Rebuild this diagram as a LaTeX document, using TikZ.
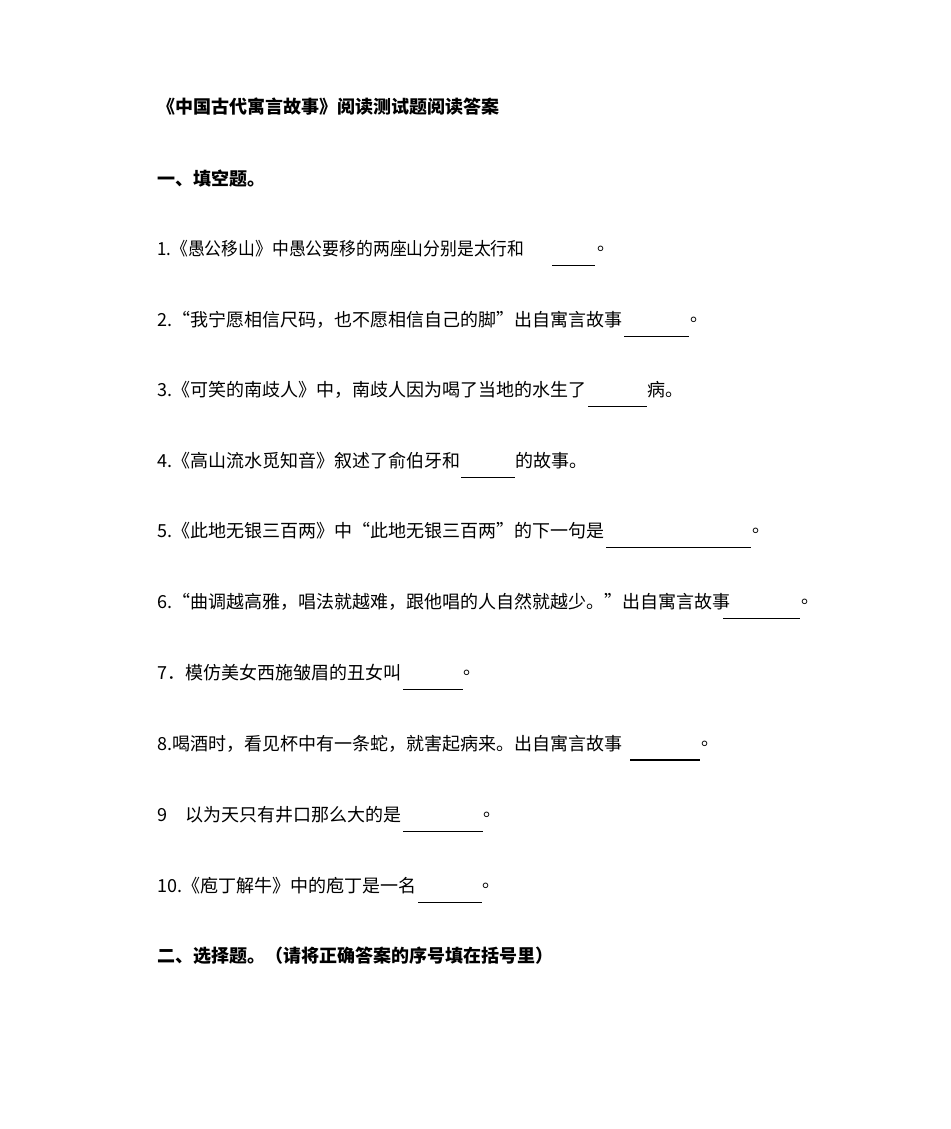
\documentclass[tikz,border=0pt]{standalone}
\usepackage{fontspec}
\setmainfont{Noto Sans CJK SC}
\begin{document}
\begin{tikzpicture}[x=1pt,y=-1pt,
 t/.style={anchor=west,inner sep=0pt,font=\fontsize{18}{20}\selectfont},
 tb/.style={t,font=\fontsize{18}{20}\selectfont\bfseries},
 ul/.style={line width=0.8pt}]
\useasboundingbox[fill=white] (0,0) rectangle (950,1129);
\node[tb] (h) at (157,107) {《中国古代寓言故事》阅读测试题阅读答案};
\node[tb] (s1) at (157,179) {一、填空题。};
% 1
\node[t] (a1) at (157,249) {\scalebox{0.935}[1]{1.《愚公移山》中愚公要移的两座山分别是太行和}};
\coordinate (a1s) at (552,265); \coordinate (a1e) at (595,265);
\draw[ul] (a1s) -- (a1e);
\node[t] (a1p) at (597,249) {。};
% 2
\node[t] (a2) at (157,320) {2.“我宁愿相信尺码，也不愿相信自己的脚”出自寓言故事};
\coordinate (a2s) at (624,336); \coordinate (a2e) at (689,336);
\draw[ul] (a2s) -- (a2e);
\node[t] (a2p) at (690,320) {。};
% 3
\node[t] (a3) at (157,390) {3.《可笑的南歧人》中，南歧人因为喝了当地的水生了};
\coordinate (a3s) at (588,406); \coordinate (a3e) at (647,406);
\draw[ul] (a3s) -- (a3e);
\node[t] (a3p) at (647,390) {病。};
% 4
\node[t] (a4) at (157,461) {4.《高山流水觅知音》叙述了俞伯牙和};
\coordinate (a4s) at (461,477); \coordinate (a4e) at (515,477);
\draw[ul] (a4s) -- (a4e);
\node[t] (a4p) at (515,461) {的故事。};
% 5
\node[t] (a5) at (157,531) {5.《此地无银三百两》中“此地无银三百两”的下一句是};
\coordinate (a5s) at (606,547); \coordinate (a5e) at (751,547);
\draw[ul] (a5s) -- (a5e);
\node[t] (a5p) at (752,531) {。};
% 6
\node[t] (a6) at (157,602) {6.“曲调越高雅，唱法就越难，跟他唱的人自然就越少。”出自寓言故事};
\coordinate (a6s) at (723,618); \coordinate (a6e) at (800,618);
\draw[ul] (a6s) -- (a6e);
\node[t] (a6p) at (801,602) {。};
% 7
\node[t] (a7) at (157,673) {7．模仿美女西施皱眉的丑女叫};
\coordinate (a7s) at (403,689); \coordinate (a7e) at (463,689);
\draw[ul] (a7s) -- (a7e);
\node[t] (a7p) at (463,673) {。};
% 8
\node[t] (a8) at (157,744) {8.喝酒时，看见杯中有一条蛇，就害起病来。出自寓言故事};
\coordinate (a8s) at (630,760); \coordinate (a8e) at (700,760);
\draw[line width=1.8pt] (a8s) -- (a8e);
\node[t] (a8p) at (701,744) {。};
% 9
\node[t] (a9) at (157,815) {9\hspace{1em}以为天只有井口那么大的是};
\coordinate (a9s) at (403,831); \coordinate (a9e) at (483,831);
\draw[ul] (a9s) -- (a9e);
\node[t] (a9p) at (483,815) {。};
% 10
\node[t] (a10) at (157,886) {10.《庖丁解牛》中的庖丁是一名};
\coordinate (a10s) at (418,902); \coordinate (a10e) at (482,902);
\draw[ul] (a10s) -- (a10e);
\node[t] (a10p) at (482,886) {。};
\node[tb] (s2) at (157,956) {二、选择题。（请将正确答案的序号填在括号里）};
\end{tikzpicture}
\end{document}
